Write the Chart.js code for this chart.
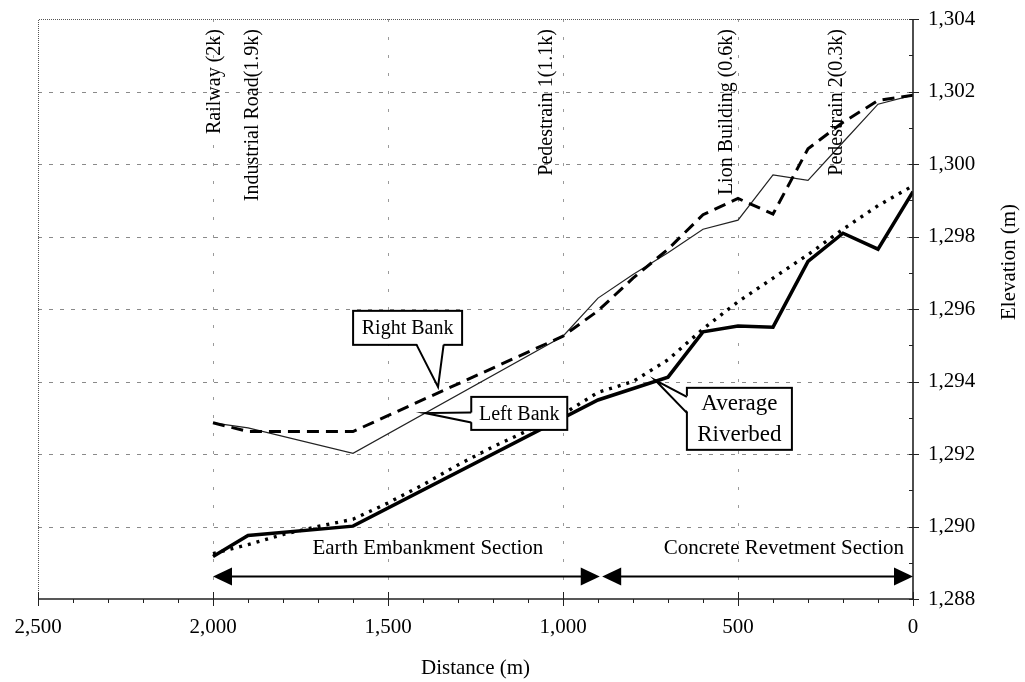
<!DOCTYPE html>
<html>
<head>
<meta charset="utf-8">
<script src="https://cdn.jsdelivr.net/npm/chart.js@4.4.1/dist/chart.umd.min.js"></script>
<style>
  html, body { margin: 0; padding: 0; background: #fff; }
  #wrap { width: 1025px; height: 682px; }
</style>
</head>
<body>
<div id="wrap"><canvas id="c" width="1025" height="682"></canvas></div>
<script>
// ---- data (distance in m, elevation in m) ----
const rightBankDist = [2000, 1900, 1600, 1000, 900, 800, 700, 600, 500, 400, 300, 200, 100, 0];
const rightBankElev = [1292.86, 1292.62, 1292.62, 1295.25, 1295.95, 1296.85, 1297.65, 1298.6, 1299.05, 1298.62, 1300.42, 1301.15, 1301.75, 1301.9];

const leftBankDist = [2000, 1900, 1600, 1000, 900, 800, 700, 600, 500, 400, 300, 200, 100, 0];
const leftBankElev = [1292.86, 1292.72, 1292.02, 1295.25, 1296.3, 1296.95, 1297.55, 1298.2, 1298.45, 1299.7, 1299.55, 1300.6, 1301.65, 1301.9];

const riverbedDist = [2000, 1900, 1600, 900, 700, 600, 500, 400, 300, 200, 100, 0];
const riverbedElev = [1289.17, 1289.75, 1290.01, 1293.49, 1294.12, 1295.37, 1295.53, 1295.5, 1297.31, 1298.09, 1297.65, 1299.24];

const trendDist = [2000, 1900, 1800, 1700, 1600, 1500, 1400, 1300, 1200, 1100, 1000, 900, 800, 700, 600, 500, 400, 300, 200, 100, 0];
const trendElev = [1289.25, 1289.5, 1289.78, 1290.0, 1290.2, 1290.65, 1291.15, 1291.7, 1292.2, 1292.65, 1293.1, 1293.7, 1294.0, 1294.6, 1295.45, 1296.2, 1296.85, 1297.5, 1298.2, 1298.85, 1299.4];

const xTickValues = [2500, 2000, 1500, 1000, 500, 0];
const yTickValues = [1288, 1290, 1292, 1294, 1296, 1298, 1300, 1302, 1304];

const siteLabels = ['Railway (2k)', 'Industrial Road(1.9k)', 'Pedestrain 1(1.1k)', 'Lion Building (0.6k)', 'Pedestrain 2(0.3k)'];
const siteLabelDist = [1994, 1886, 1046, 531, 217];

const sectionNames = ['Earth Embankment Section', 'Concrete Revetment Section'];
const sectionStart = [2000, 888];
const sectionEnd = [895, 0];
const sectionLabelDist = [1386, 369];
const sectionArrowElev = 1288.62;
const sectionLabelElev = 1289.38;

const calloutTexts = [['Right Bank'], ['Left Bank'], ['Average', 'Riverbed']];
const calloutTipDist = [1357, 1394, 737];
const calloutTipElev = [1293.85, 1293.13, 1294.04];
const calloutBoxDist = [1444, 1125, 496];
const calloutBoxElev = [1295.48, 1293.12, 1292.97];

const xTitle = 'Distance (m)';
const yTitle = 'Elevation (m)';

function pts(xs, ys) { return xs.map((x, i) => ({ x: x, y: ys[i] })); }

const SERIF = '"Liberation Serif", "DejaVu Serif", serif';

const calloutStyle = [
  { w: 109, h: 34, side: 'bottom', b1: 9, b2: 36, font: 20, lh: 24 },
  { w: 96, h: 33, side: 'left', b1: -1, b2: 9, font: 20, lh: 24 },
  { w: 105, h: 62, side: 'left', b1: -22, b2: -6, font: 23, lh: 31 }
];

const overlay = {
  id: 'overlay',
  beforeDatasetsDraw(chart) {
    const { ctx, chartArea: a, scales: { x, y } } = chart;
    ctx.save();
    ctx.strokeStyle = '#8a8a8a';
    ctx.lineWidth = 1;
    ctx.setLineDash([4, 7]);
    yTickValues.forEach(v => {
      if (v === 1288 || v === 1304) return;
      const py = Math.round(y.getPixelForValue(v)) + 0.5;
      ctx.beginPath(); ctx.moveTo(a.left, py); ctx.lineTo(a.right, py); ctx.stroke();
    });
    ctx.strokeStyle = '#9a9a9a';
    ctx.setLineDash([3, 15]);
    xTickValues.forEach(v => {
      if (v === 2500 || v === 0) return;
      const px = Math.round(x.getPixelForValue(v)) + 0.5;
      ctx.beginPath(); ctx.moveTo(px, a.top); ctx.lineTo(px, a.bottom); ctx.stroke();
    });
    ctx.strokeStyle = '#555';
    ctx.setLineDash([1, 1]);
    ctx.beginPath();
    ctx.moveTo(a.left + 0.5, a.bottom); ctx.lineTo(a.left + 0.5, a.top + 0.5); ctx.lineTo(a.right, a.top + 0.5);
    ctx.stroke();
    ctx.restore();
  },
  afterDatasetsDraw(chart) {
    const { ctx, chartArea: a, scales: { x, y } } = chart;
    ctx.save();
    ctx.setLineDash([]);
    ctx.strokeStyle = '#222';
    ctx.lineWidth = 1.6;
    ctx.beginPath();
    ctx.moveTo(a.left, a.bottom); ctx.lineTo(a.right, a.bottom); ctx.lineTo(a.right, a.top);
    ctx.stroke();
    ctx.lineWidth = 1;
    for (let v = 0; v <= 2500; v += 100) {
      const px = Math.round(x.getPixelForValue(v)) + 0.5;
      const major = v % 500 === 0;
      ctx.beginPath();
      ctx.moveTo(px, a.bottom - (major ? 7 : 0));
      ctx.lineTo(px, a.bottom + (major ? 7 : 4));
      ctx.stroke();
    }
    for (let v = 1288; v <= 1304; v += 1) {
      const py = Math.round(y.getPixelForValue(v)) + 0.5;
      const major = v % 2 === 0;
      ctx.beginPath();
      ctx.moveTo(a.right - 4, py);
      ctx.lineTo(a.right + (major ? 6 : 0), py);
      ctx.stroke();
    }

    ctx.fillStyle = '#000';
    ctx.strokeStyle = '#000';
    ctx.lineWidth = 2;
    const ay = y.getPixelForValue(sectionArrowElev);
    sectionNames.forEach((name, i) => {
      const x1 = x.getPixelForValue(sectionStart[i]);
      const x2 = x.getPixelForValue(sectionEnd[i]);
      ctx.beginPath(); ctx.moveTo(x1 + 10, ay); ctx.lineTo(x2 - 10, ay); ctx.stroke();
      ctx.beginPath(); ctx.moveTo(x1, ay); ctx.lineTo(x1 + 19, ay - 9); ctx.lineTo(x1 + 19, ay + 9); ctx.closePath(); ctx.fill();
      ctx.beginPath(); ctx.moveTo(x2, ay); ctx.lineTo(x2 - 19, ay - 9); ctx.lineTo(x2 - 19, ay + 9); ctx.closePath(); ctx.fill();
      ctx.font = '21px ' + SERIF;
      ctx.textAlign = 'center';
      ctx.textBaseline = 'middle';
      ctx.fillText(name, x.getPixelForValue(sectionLabelDist[i]), y.getPixelForValue(sectionLabelElev));
    });

    ctx.font = '20px ' + SERIF;
    ctx.fillStyle = '#000';
    siteLabels.forEach((t, i) => {
      const px = x.getPixelForValue(siteLabelDist[i]);
      ctx.save();
      ctx.translate(px, a.top + 10);
      ctx.rotate(-Math.PI / 2);
      ctx.textAlign = 'right';
      ctx.textBaseline = 'middle';
      ctx.fillText(t, 0, 0);
      ctx.restore();
    });

    calloutTexts.forEach((lines, i) => {
      const s = calloutStyle[i];
      const cx = x.getPixelForValue(calloutBoxDist[i]);
      const cy = y.getPixelForValue(calloutBoxElev[i]);
      const tx = x.getPixelForValue(calloutTipDist[i]);
      const ty = y.getPixelForValue(calloutTipElev[i]);
      const L = cx - s.w / 2, T = cy - s.h / 2;
      ctx.lineWidth = 2;
      ctx.strokeStyle = '#000';
      ctx.fillStyle = '#fff';
      ctx.fillRect(L, T, s.w, s.h);
      ctx.strokeRect(L, T, s.w, s.h);
      let p1, p2;
      if (s.side === 'bottom') { p1 = [cx + s.b1, T + s.h]; p2 = [cx + s.b2, T + s.h]; }
      else { p1 = [L, cy + s.b1]; p2 = [L, cy + s.b2]; }
      ctx.beginPath();
      if (s.side === 'bottom') { ctx.moveTo(p1[0], p1[1] - 2); ctx.lineTo(tx, ty); ctx.lineTo(p2[0], p2[1] - 2); }
      else { ctx.moveTo(p1[0] + 2, p1[1]); ctx.lineTo(tx, ty); ctx.lineTo(p2[0] + 2, p2[1]); }
      ctx.closePath(); ctx.fill();
      ctx.beginPath(); ctx.moveTo(p1[0], p1[1]); ctx.lineTo(tx, ty); ctx.lineTo(p2[0], p2[1]); ctx.stroke();
      ctx.fillStyle = '#000';
      ctx.font = s.font + 'px ' + SERIF;
      ctx.textAlign = 'center';
      ctx.textBaseline = 'middle';
      const start = cy - (lines.length - 1) * s.lh / 2;
      lines.forEach((ln, k) => ctx.fillText(ln, cx, start + k * s.lh + 1));
    });

    ctx.fillStyle = '#000';
    ctx.font = '21px ' + SERIF;
    ctx.textAlign = 'center';
    ctx.textBaseline = 'middle';
    ctx.fillText(xTitle, (a.left + a.right) / 2, 668);
    ctx.save();
    ctx.translate(1009, 262);
    ctx.rotate(-Math.PI / 2);
    ctx.fillText(yTitle, 0, 0);
    ctx.restore();
    ctx.restore();
  }
};

new Chart(document.getElementById('c'), {
  type: 'line',
  data: {
    datasets: [
      { label: 'Right Bank', data: pts(rightBankDist, rightBankElev), borderColor: '#000', borderWidth: 3, borderDash: [12, 7], pointRadius: 0, tension: 0, fill: false },
      { label: 'Left Bank', data: pts(leftBankDist, leftBankElev), borderColor: '#222', borderWidth: 1.2, pointRadius: 0, tension: 0, fill: false },
      { label: 'Average Riverbed', data: pts(riverbedDist, riverbedElev), borderColor: '#000', borderWidth: 3.5, pointRadius: 0, tension: 0, fill: false },
      { label: 'Trend', data: pts(trendDist, trendElev), borderColor: '#000', borderWidth: 3.4, borderDash: [3, 6], pointRadius: 0, tension: 0, fill: false }
    ]
  },
  options: {
    responsive: false,
    animation: false,
    devicePixelRatio: 1,
    layout: { padding: { left: 38, top: 19, right: 0, bottom: 0 } },
    plugins: { legend: { display: false }, tooltip: { enabled: false } },
    scales: {
      x: {
        type: 'linear', reverse: true, min: 0, max: 2500,
        grid: { display: false, drawTicks: false },
        border: { display: false },
        afterFit(s) { s.height = 83; s.paddingLeft = 0; s.paddingRight = 0; },
        afterBuildTicks(s) { s.ticks = xTickValues.map(v => ({ value: v })); },
        ticks: {
          color: '#000', padding: 16, maxRotation: 0,
          font: { family: SERIF, size: 21 },
          callback: v => Number(v).toLocaleString('en-US')
        }
      },
      y: {
        type: 'linear', position: 'right', min: 1288, max: 1304,
        grid: { display: false, drawTicks: false },
        border: { display: false },
        afterFit(s) { s.width = 112; s.paddingTop = 0; s.paddingBottom = 0; },
        afterBuildTicks(s) { s.ticks = yTickValues.map(v => ({ value: v })); },
        ticks: {
          color: '#000', padding: 15,
          font: { family: SERIF, size: 21 },
          callback: v => Number(v).toLocaleString('en-US')
        }
      }
    }
  },
  plugins: [overlay]
});
</script>
</body>
</html>
